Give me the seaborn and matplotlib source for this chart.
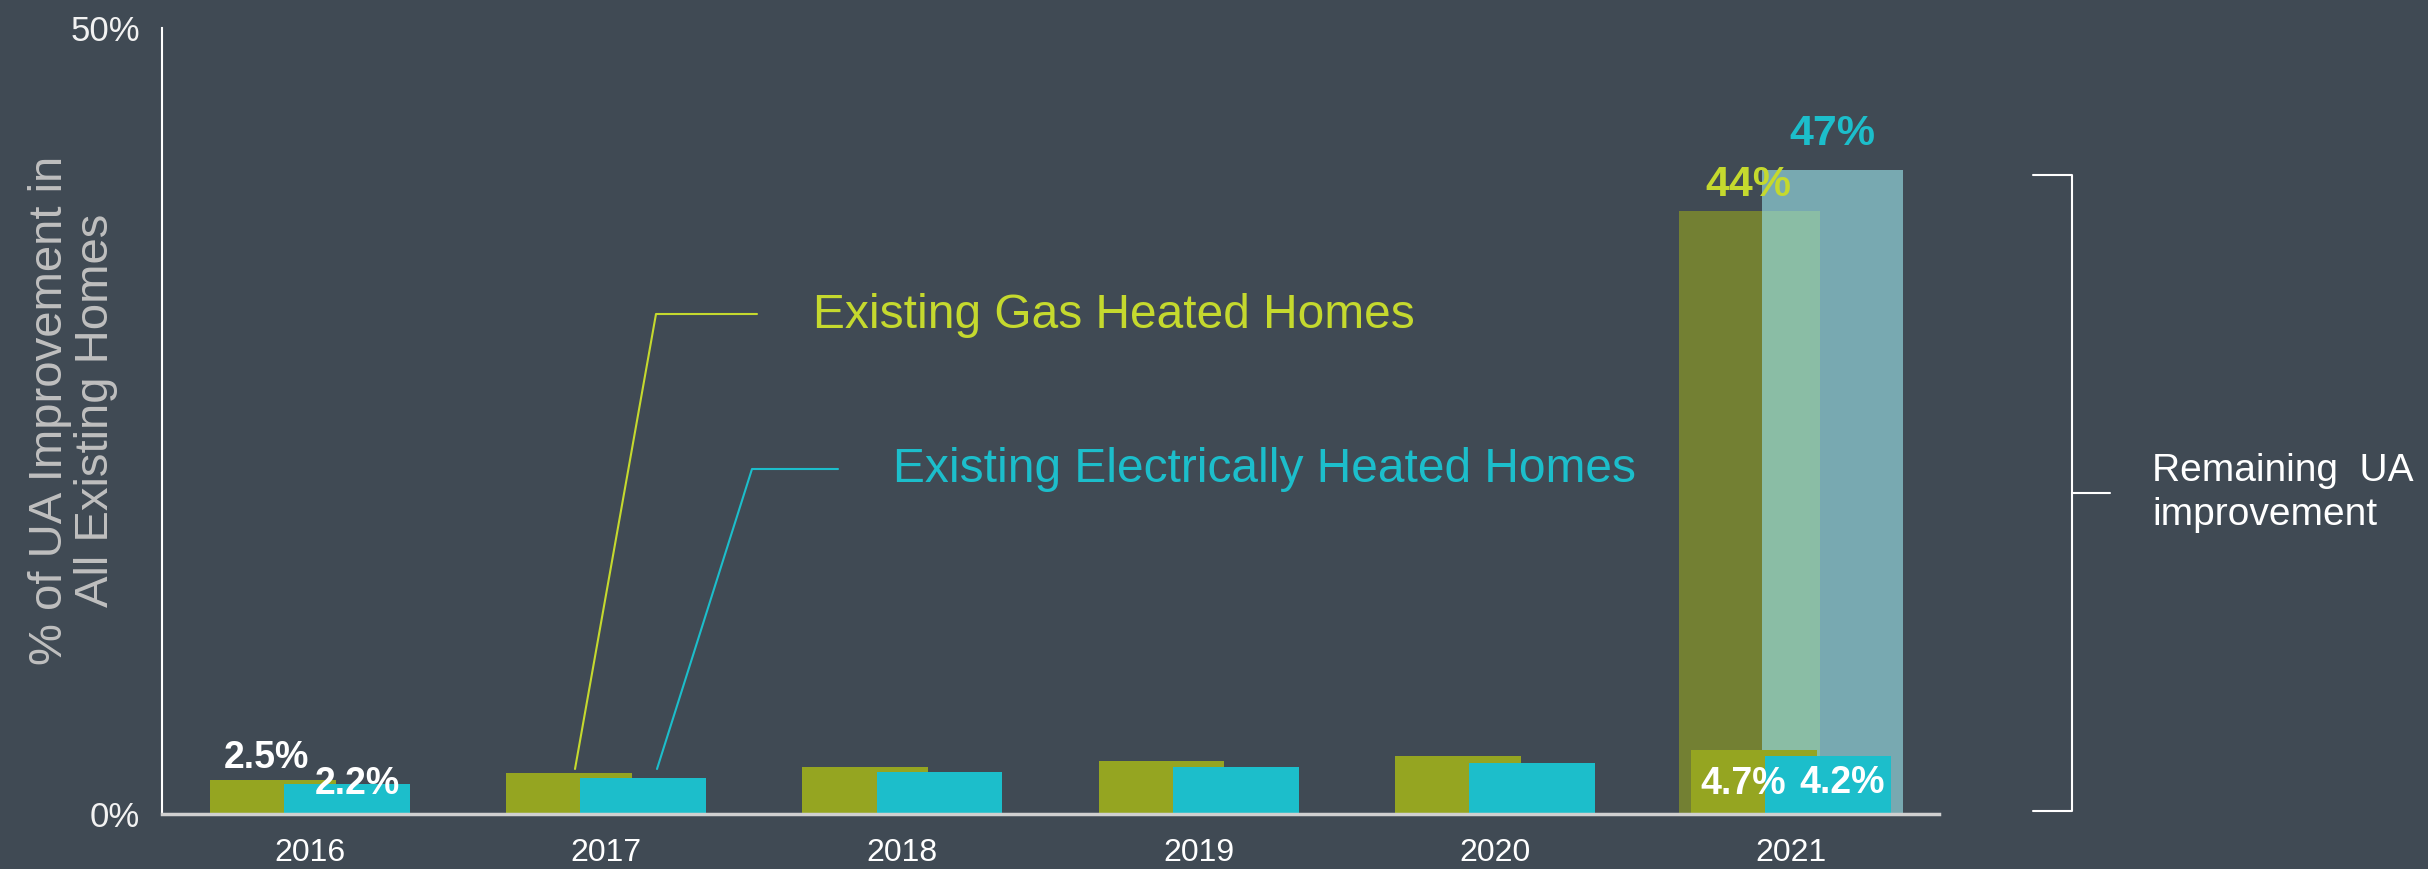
import pandas as pd
import matplotlib.pyplot as plt
import seaborn as sns
from matplotlib.lines import Line2D

# 연도별 누적 UA 개선율 (%)
years = ['2016', '2017', '2018', '2019', '2020', '2021']
gas_done = [2.5, 3.0, 3.4, 3.9, 4.2, 4.7]
elec_done = [2.2, 2.6, 3.1, 3.4, 3.7, 4.2]

# 2021년 남은 개선 여지
remain_year = ['2021']
gas_remain = [44]
elec_remain = [47]

gas_name = 'Existing Gas Heated Homes'
elec_name = 'Existing Electrically Heated Homes'
ylabel = '% of UA Improvement in\nAll Existing Homes'
bracket_text = 'Remaining  UA\nimprovement'

bg = '#404A54'
gas_c = '#95A521'
elec_c = '#1CBECB'
gas_txt = '#C5D92E'
narrow = ['Liberation Sans Narrow', 'Liberation Sans', 'DejaVu Sans']

sns.set_theme(style='white')
plt.rcParams['font.family'] = ['Liberation Sans', 'DejaVu Sans']

W, H = 2428, 869
fig = plt.figure(figsize=(W / 100, H / 100), dpi=100, facecolor=bg)
ax = fig.add_axes([162 / W, 1 - 814 / H, (1939 - 162) / W, (814 - 28) / H])
ax.set_facecolor(bg)

small = pd.DataFrame({'year': years * 2,
                      'value': gas_done + elec_done,
                      'type': ['gas'] * len(years) + ['elec'] * len(years)})
big = pd.DataFrame({'year': remain_year * 2,
                    'value': gas_remain + elec_remain,
                    'type': ['gas'] * len(remain_year) + ['elec'] * len(remain_year)})

# 뒤쪽 큰 막대 (남은 개선 여지)
sns.barplot(data=big, x='year', y='value', hue='type', order=years,
            hue_order=['gas', 'elec'],
            palette={'gas': '#738033', 'elec': '#99E2E9'},
            width=0.56, gap=-0.7, saturation=1, errorbar=None,
            linewidth=0, legend=False, ax=ax)
# 앞쪽 작은 막대 (달성치)
sns.barplot(data=small, x='year', y='value', hue='type', order=years,
            hue_order=['gas', 'elec'],
            palette={'gas': gas_c, 'elec': elec_c},
            width=0.5, gap=-0.7, saturation=1, errorbar=None,
            linewidth=0, legend=False, ax=ax)

big_gas, big_elec, sm_gas, sm_elec = ax.containers[:4]
for p in big_elec:
    p.set_alpha(0.63)

ax.set_xlim(-0.5, 5.5)
ax.set_ylim(0, 57.4)
ax.set_yticks([0, 57.4], ['0%', '50%'])
ax.set_xlabel('')
ax.set_ylabel('')
for s in ['top', 'right']:
    ax.spines[s].set_visible(False)
ax.spines['left'].set_color('white')
ax.spines['left'].set_linewidth(1.5)
ax.spines['bottom'].set_color('#D0D0D0')
ax.spines['bottom'].set_linewidth(2.5)
ax.tick_params(axis='x', length=0, pad=17, labelsize=23, colors='white')
ax.tick_params(axis='y', length=0, pad=16, labelsize=25, colors='#F2F2F2')
for lbl in ax.get_xticklabels():
    lbl.set_fontfamily(narrow)


def label(bar, text, dx, dy, color, size):
    ax.annotate(text, (bar.get_x() + bar.get_width() / 2, bar.get_height()),
                xytext=(dx, dy), textcoords='offset pixels', ha='center',
                va='baseline', color=color, fontsize=size, fontweight='bold')


label(big_gas[0], f'{gas_remain[0]}%', -1, 15, gas_txt, 31)
label(big_elec[0], f'{elec_remain[0]}%', 0, 25, elec_c, 31)
label(sm_gas[0], f'{gas_done[0]}%', -7, 12, 'white', 27)
label(sm_elec[0], f'{elec_done[0]}%', 10, -10, 'white', 27)
label(sm_gas[-1], f'{gas_done[-1]}%', -11, -44, 'white', 27)
label(sm_elec[-1], f'{elec_done[-1]}%', 14, -37, 'white', 27)

# 축 제목
fig.text(73 / W, 1 - 410 / H, ylabel, rotation=90, ha='center', va='center',
         multialignment='center', fontsize=34, linespacing=1.08,
         color='#BFBFBF', family=narrow)


def px(xs, ys):
    return [x / W for x in xs], [1 - y / H for y in ys]


# 범례 텍스트와 연결선
fig.text(813 / W, 1 - 328 / H, gas_name, color=gas_txt, fontsize=34.5,
         ha='left', va='baseline')
fig.text(893 / W, 1 - 482 / H, elec_name, color=elec_c, fontsize=34.5,
         ha='left', va='baseline')
xs, ys = px([575, 656, 757], [769, 314, 314])
fig.add_artist(Line2D(xs, ys, color=gas_txt, lw=1.5, transform=fig.transFigure))
xs, ys = px([657, 752, 838], [769, 469, 469])
fig.add_artist(Line2D(xs, ys, color=elec_c, lw=1.5, transform=fig.transFigure))

# 오른쪽 괄호
xs, ys = px([2033, 2072, 2072, 2033], [175, 175, 811, 811])
fig.add_artist(Line2D(xs, ys, color='white', lw=1.5, transform=fig.transFigure))
xs, ys = px([2072, 2110], [493, 493])
fig.add_artist(Line2D(xs, ys, color='white', lw=1.5, transform=fig.transFigure))
fig.text(2152 / W, 1 - 493 / H, bracket_text, color='white', fontsize=28,
         ha='left', va='center', linespacing=1.3)

fig.savefig('out.png', dpi=100, facecolor=bg)
